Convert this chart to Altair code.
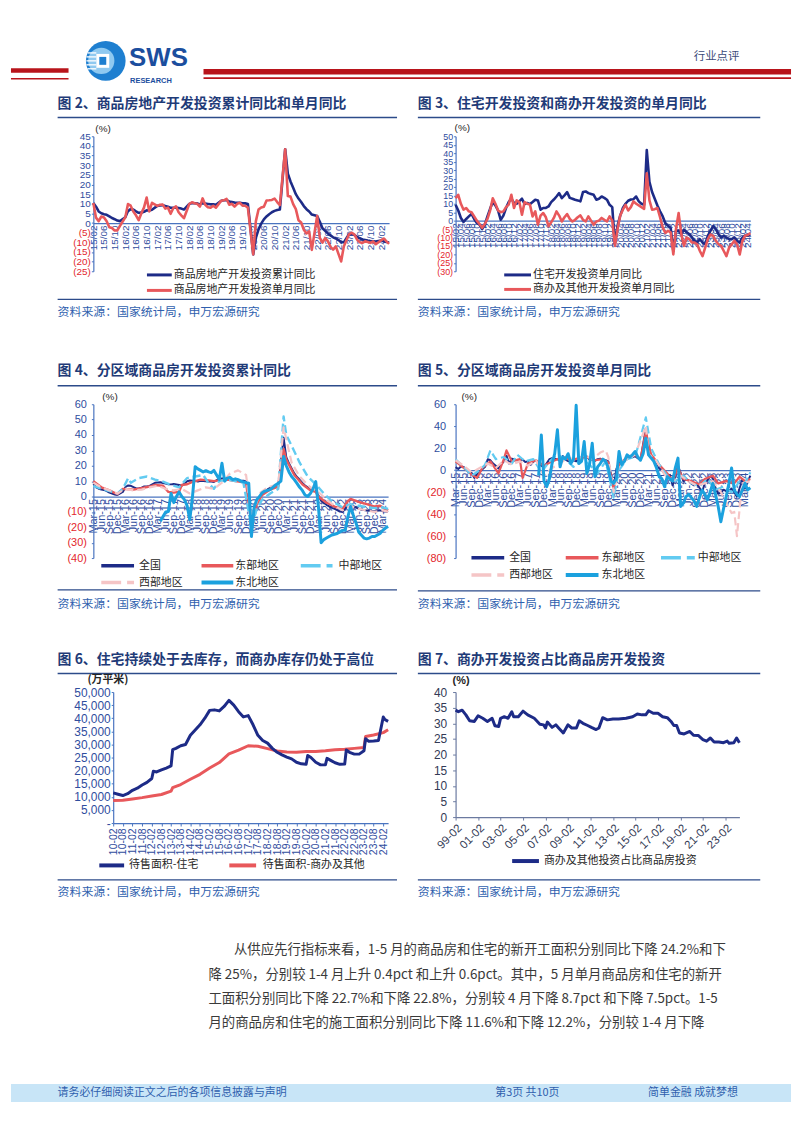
import altair as alt
import pandas as pd

CJK = "Noto Sans CJK SC"
LAT = "Liberation Sans"

NAVY = "#1D2B87"
RED = "#E8585B"
LBLUE = "#62CBF1"
PINK = "#F5C5C6"
BRIGHT = "#1BA1DE"
TITLE_C = "#1F3B78"
UL_C = "#2C4B8A"
SRC_C = "#2F5FAE"
AX_C = "#4A74C0"
POS_C = "#2F4D9E"
NEG_C = "#E3262D"
TXT_C = "#262626"
BAR_C = "#B8141B"


def months(start, end, skip_jan=False):
    out = [str(p) for p in pd.period_range(start, end, freq="M")]
    return [m for m in out if not (skip_jan and m.endswith("-01"))]


def midx(s):
    y, m = s.split("-")
    return int(y) * 12 + int(m) - 1


def ticks(start, end, step):
    a = midx(start)
    return [midx(m) for m in months(start, end) if (midx(m) - a) % step == 0]


# ---------------- data: Fig 2 ----------------
F2_MONTHS = months("2015-02", "2024-05", skip_jan=True)
F2_CUM = [10.4, 8.5, 6.0, 5.1, 4.6, 4.3, 3.5, 2.6, 2.0, 1.3, 1.0,
          3.0, 6.2, 7.2, 7.0, 6.1, 5.3, 5.4, 5.8, 6.6, 6.5, 6.9,
          8.9, 9.1, 9.3, 8.8, 8.5, 7.9, 7.9, 8.1, 7.8, 7.5, 7.0,
          9.9, 10.4, 10.3, 10.2, 9.7, 10.2, 10.1, 9.9, 9.7, 9.7, 9.5,
          11.6, 11.8, 11.9, 11.2, 10.9, 10.6, 10.5, 10.5, 10.3, 10.2, 9.9,
          -16.3, -7.7, -3.3, -0.3, 1.9, 3.4, 4.6, 5.6, 6.3, 6.8, 7.0,
          38.3, 25.6, 21.6, 18.3, 15.0, 12.7, 10.9, 8.8, 7.2, 6.0, 4.4,
          3.7, 0.7, -2.7, -4.0, -5.4, -6.4, -7.4, -8.0, -8.8, -9.8, -10.0,
          -5.7, -5.8, -6.2, -7.2, -7.9, -8.5, -8.8, -9.1, -9.3, -9.4, -9.6,
          -9.0, -9.5, -9.8, -10.1]
F2_MON = [10.4, 2.8, 1.0, 3.4, 2.9, 0.9, -2.2, -2.6, -3.9, -3.8, -1.5,
          3.0, 9.9, 9.0, 6.0, 4.0, 1.5, 5.0, 8.0, 13.2, 6.0, 10.5,
          8.9, 9.5, 9.6, 7.5, 8.0, 4.8, 7.7, 8.7, 5.6, 4.0, 2.5,
          9.9, 10.8, 10.3, 10.0, 8.5, 12.8, 9.5, 8.2, 8.0, 9.0, 8.0,
          11.6, 11.8, 12.5, 9.5, 10.0, 8.5, 10.0, 10.5, 9.0, 9.0, 8.0,
          -16.3, 1.0, 7.0, 8.1, 8.5, 11.7, 11.8, 12.0, 12.7, 10.9, 9.3,
          38.3, 14.0, 13.7, 9.8, 7.2, 1.5, 0.3, -3.5, -5.4, -4.3, -13.9,
          3.7, -7.7, -10.1, -7.8, -9.4, -12.3, -13.8, -12.1, -16.0, -19.9, -12.2,
          -5.7, -5.0, -6.0, -8.6, -10.0, -10.3, -9.5, -9.8, -10.3, -9.5, -11.0,
          -9.0, -8.0, -9.5, -10.8]

# ---------------- data: Fig 3 ----------------
F3_MONTHS = months("2015-02", "2024-05")
F3_RES = [9.4, 6, 1.6, -0.8, 1, 2.5, 4, 1, -1.4, -2.4,
          -5, -2.4, 2.5, 7, 11, 9, 6, 0.5, 3, 7.5,
          11, 13, 10.5, 10, 11.4, 13, 9.8, 10.5, 9.8, 11,
          12.4, 12, 6.5, 7.5, 7.5, 8.4, 11, 12.5, 14.3, 16.3,
          13.3, 15, 16.9, 13.5, 13, 12.4, 12, 11.4, 17, 17.3,
          16.3, 15.8, 15.3, 12.4, 13, 14.3, 13.5, 12.4, 9.4, 8,
          -14, -3, 3, 7.5, 10, 11.8, 12.5, 12.7, 14.3, 11.4,
          10, 9.4, 41.8, 23, 17, 13, 9, 5.5, 2.5, -1.5,
          -3, -4.3, -18, -6, -6, -8.2, -5.3, -7, -8, -10,
          -12, -13, -11, -13, -14, -9, -6, -3.3, -5, -8,
          -10, -9, -10, -11, -11, -10, -12, -13, -10, -9,
          -9, -8.2]
F3_COM = [13.3, 15.3, 10, 6.5, 7.5, 5.5, 5, 2.5, 0, -2,
          -4.3, -2, 1, 6, 13.3, 10, 6, 5, 5.5, 8,
          9.5, 15.3, 7.5, 12, 11, 3.5, 11, 10, 9.5, 2.5,
          5.5, -2.4, 3, 4.5, 2, -3.3, -1, 1.6, 5.5, 3,
          -0.5, 2, 3.9, 1, -0.5, 0.5, 2, 3.1, 0.5, -0.5,
          2.5, 0, -2.4, -0.5, 0, 1.6, 0.5, -0.5, 2.5, 0,
          -15, -5, 3, 6.5, 9.4, 6, 8, 11.4, 10, 9,
          8, 7, 28, 12, 6.5, 6.8, 7.5, 2, -4, -7.3,
          -6, -7, -20, -5, 4.5, -8, -15, -10, -11, -13,
          -13, -14, -18, -21, -16, -11, -8.2, -9, -12, -14,
          -15, -18, -21, -16, -14, -12, -14, -20, -12, -9,
          -8.5, -7.3]

# ---------------- data: Fig 4 ----------------
F4_NAT_MONTHS = F2_MONTHS[1:]
F4_NAT = F2_CUM[1:]
F4_EAST_M = ["2015-03", "2015-06", "2015-09", "2015-12", "2016-02", "2016-06", "2016-09", "2016-12",
             "2017-02", "2017-05", "2017-07", "2017-09", "2017-11", "2017-12",
             "2018-02", "2018-04", "2018-07", "2018-10", "2018-12",
             "2019-02", "2019-05", "2019-08", "2019-10", "2019-12",
             "2020-02", "2020-04", "2020-06", "2020-09", "2020-12",
             "2021-02", "2021-03", "2021-06", "2021-09", "2021-12",
             "2022-02", "2022-03", "2022-06", "2022-09", "2022-12",
             "2023-02", "2023-03", "2023-06", "2023-09", "2023-12",
             "2024-02", "2024-05"]
F4_EAST_V = [10, 6, 4, 1.5, 5, 4.5, 5.5, 6.5,
             7.5, 7, 3, 2.5, 3, 7.5,
             8, 9.5, 11, 10.5, 10,
             10.5, 11, 10, 9.5, 9,
             -18, -5, 1, 4.5, 6.5,
             31, 24, 14, 8, 4,
             3, 0, -4, -6.5, -8,
             -3, -1.5, -3.5, -5, -6.5,
             -6, -9]
F4_MID_M = ["2015-03", "2015-06", "2015-09", "2015-12", "2016-02", "2016-04", "2016-05", "2016-08", "2016-11",
            "2017-02", "2017-05", "2017-08", "2017-11", "2018-02", "2018-05", "2018-08", "2018-10", "2018-12",
            "2019-02", "2019-05", "2019-08", "2019-11", "2020-02", "2020-04", "2020-06", "2020-09", "2020-12",
            "2021-02", "2021-03", "2021-05", "2021-08", "2021-11", "2022-02", "2022-05", "2022-08", "2022-12",
            "2023-03", "2023-06", "2023-09", "2023-12", "2024-03", "2024-05"]
F4_MID_V = [7, 5, 3.5, 2, 5, 12, 9, 12, 13,
            11, 9.7, 7.5, 6, 12, 13, 14, 8.6, 5,
            10, 11, 10, 9, -20, -8, -2, 2, 5,
            52, 40, 33, 22, 13, 8, 2, -3, -7,
            -5, -6, -7, -7.5, -7, -8]
F4_WEST_M = ["2015-03", "2015-06", "2015-09", "2015-12", "2016-03", "2016-06", "2016-09", "2016-12",
             "2017-03", "2017-06", "2017-09", "2017-12", "2018-03", "2018-06", "2018-09", "2018-12",
             "2019-03", "2019-06", "2019-09", "2019-12", "2020-02", "2020-05", "2020-08", "2020-12",
             "2021-02", "2021-05", "2021-08", "2021-12", "2022-03", "2022-06", "2022-09", "2022-12",
             "2023-03", "2023-06", "2023-09", "2023-12", "2024-03", "2024-05"]
F4_WEST_V = [9, 6, 4, 2, 5, 4, 4.5, 6,
             7, 5, 4, 5, 2, 4, 6, 5,
             9, 15, 17, 14, -14, 2, 6, 8,
             45, 22, 13, 6, 3, -2, -6, -9,
             -6, -8, -9, -10, -9, -10]
F4_NE_MONTHS = months("2017-04", "2024-05")
F4_NE = [-16, -13, -10, -9.7, 2, -4, 0, 3, 0, -2,
         -6, -15, 0, 19.4, 18, 17, 16, 16.8, 16, 15.5,
         17, 14, 11, 21.6, 10, 12, 12.5, 11, 11.5, 11,
         10, 9.5, 9, 8.6, -26, -7, -2, 0, 2.5, 3.5,
         4, 4.5, 6, 7.5, 8.6, 10, 26, 20, 16, 13,
         11, 8.6, 6, 4, 1, 0, 2, 5, 9.7, -6.5,
         -30, -28, -27, -26, -25, -24.5, -24, -23, -22, -22,
         -13, -6.5, -12, -17, -23, -25, -27, -27.5, -27, -26,
         -26, -25, -24, -22, -20.5, -19.4]

# ---------------- data: Fig 5 ----------------
F5_NAT_MONTHS = months("2015-03", "2024-05", skip_jan=True)
F5_NAT = [2.8, 1.0, 3.4, 2.9, 0.9, -2.2, -2.6, -7.0, -3.8, -1.5,
          3.0, 9.9, 9.0, 6.0, 4.0, 1.5, 5.0, 8.0, 13.2, 6.0, 10.5,
          8.9, 9.5, 9.6, 7.5, 8.0, 4.8, 7.7, 8.7, 5.6, 4.0, 2.5,
          9.9, 10.8, 10.3, 10.0, 8.5, 12.8, 9.5, 8.2, 8.0, 9.0, 8.0,
          11.6, 11.8, 12.5, 9.5, 10.0, 8.5, 10.0, 10.5, 9.0, 9.0, 8.0,
          -16.3, 1.0, 7.0, 8.1, 8.5, 11.7, 11.8, 12.0, 12.7, 10.9, 9.3,
          38.3, 14.0, 13.7, 9.8, 7.2, 1.5, 0.3, -3.5, -5.4, -4.3, -13.9,
          3.7, -2.4, -10.1, -7.8, -9.4, -12.3, -13.8, -12.1, -16.0, -19.9, -12.2,
          -5.7, -7.2, -16.2, -21.5, -20.6, -17.8, -19.1, -18.7, -16.7, -20.0, -24.0,
          -9.0, -16.8, -10.5, -5.0]
F5_EAST_M = ["2015-03", "2015-06", "2015-09", "2015-11", "2016-01", "2016-04", "2016-07", "2016-09", "2016-10", "2016-12",
             "2017-03", "2017-04", "2017-06", "2017-09", "2017-12", "2018-03", "2018-07", "2018-10", "2019-01", "2019-04",
             "2019-07", "2019-10", "2019-12", "2020-02", "2020-04", "2020-07", "2020-10", "2020-12", "2021-02", "2021-04",
             "2021-07", "2021-10", "2021-12", "2022-02", "2022-04", "2022-07", "2022-10", "2022-12", "2023-03", "2023-05",
             "2023-08", "2023-11", "2024-01", "2024-03", "2024-05"]
F5_EAST_V = [8, 2, -4, -7, 2, 8, -3, 10, 18, 8,
             10, -7, 6, 9, 4, 8, 12, 9, 11, 12,
             9, 10, 7, -18, 5, 12, 14, 10, 35, 14,
             5, -3, -10, 2, -8, -10, -13, -8, -5, -12,
             -10, -12, -6, -10, -8]
F5_MID_M = ["2015-03", "2015-06", "2015-09", "2015-12", "2016-02", "2016-04", "2016-06", "2016-09", "2016-12", "2017-02",
            "2017-05", "2017-08", "2017-11", "2018-02", "2018-05", "2018-08", "2018-11", "2019-02", "2019-05", "2019-08",
            "2019-11", "2020-02", "2020-04", "2020-07", "2020-10", "2021-02", "2021-04", "2021-07", "2021-10", "2022-01",
            "2022-04", "2022-07", "2022-10", "2023-01", "2023-04", "2023-07", "2023-10", "2024-01", "2024-03", "2024-05"]
F5_MID_V = [10, 3, -5, 0, 5, 18, 10, 12, 6, 14,
            8, 10, -2, 8, 14, 10, 3, 10, 5, -3,
            8, -25, 0, 10, 12, 48, 20, 5, -5, -10,
            -5, -12, -15, -8, -18, -15, -20, -10, -12, -2]
F5_WEST_M = ["2015-03", "2015-06", "2015-09", "2015-12", "2016-03", "2016-06", "2016-09", "2016-12", "2017-03", "2017-06",
             "2017-09", "2017-12", "2018-03", "2018-06", "2018-09", "2018-12", "2019-03", "2019-06", "2019-09", "2019-11",
             "2019-12", "2020-02", "2020-04", "2020-07", "2020-10", "2021-02", "2021-03", "2021-06", "2021-09", "2021-12",
             "2022-03", "2022-06", "2022-09", "2022-12", "2023-03", "2023-06", "2023-08", "2023-10", "2023-11", "2023-12",
             "2024-01", "2024-02", "2024-05"]
F5_WEST_V = [9, 4, -2, 2, 6, 2, 9, 5, 8, 4,
             9, -5, 2, 6, 12, 8, 14, 10, 16, 18,
             12, -20, 6, 10, 14, 40, 15, 8, -4, -10,
             -5, -10, -14, -12, -10, -20, -30, -39, -38, -60,
             -35, -12, -10]
F5_NE_MONTHS = months("2017-10", "2024-05")
F5_NE = [-5, 32, -10, -15, -8, 6, 15, 36.7, 3, 12,
         10, 15, 6, 10, 59, 6, 8, 26, -3, 5,
         24.5, -6, 3, 6, 10, 8, 2, -10, -12, -8,
         17, 5, 8, 14, 12, 14, 17, 12, 9, 15,
         29, 14, 11, 8, 2, -6, -8, -15, -6, -8,
         -10, 2, 11, -33, -30, -24, -22, -25, -28, -33,
         -25, -18, -22, -27, -20, -12, -22, -33, -47, -35,
         -24, -12, 2, -18, -22, -24, -18, -12, -18, -16]

# ---------------- data: Fig 6 ----------------
F6_RES_M = ["2010-02", "2010-05", "2010-08", "2010-11", "2011-02", "2011-05", "2011-08", "2011-11",
            "2012-02", "2012-03", "2012-05", "2012-08", "2012-11",
            "2013-02", "2013-03", "2013-05", "2013-08", "2013-11",
            "2014-02", "2014-05", "2014-08", "2014-11",
            "2015-02", "2015-05", "2015-08", "2015-11",
            "2016-02", "2016-05", "2016-08", "2016-11",
            "2017-02", "2017-05", "2017-08", "2017-11",
            "2018-02", "2018-05", "2018-08", "2018-11",
            "2019-02", "2019-05", "2019-08", "2019-11",
            "2020-02", "2020-03", "2020-05", "2020-08", "2020-11",
            "2021-02", "2021-03", "2021-05", "2021-08", "2021-11",
            "2022-02", "2022-03", "2022-05", "2022-08", "2022-11",
            "2023-02", "2023-03", "2023-05", "2023-08", "2023-11",
            "2024-02", "2024-03", "2024-05"]
F6_RES = [11500, 11000, 10500, 11200, 12500, 13300, 14500, 15500,
          17000, 19800, 19500, 20300, 21000,
          21800, 28000, 28500, 29500, 30000,
          33500, 35500, 37500, 40000,
          43000, 43200, 42800, 44500,
          46800, 45000, 42500, 40500,
          41000, 37500, 33500, 31500,
          30500, 28500, 27000, 26000,
          25200, 24500, 23200, 22600,
          22400, 25800, 25000, 23200, 22200,
          22200, 24700, 24000, 23000, 22400,
          22500, 27900, 27000, 26300, 26300,
          27600, 32200, 31200, 31300, 31500,
          40500, 39500, 38800]
F6_COM_M = ["2010-02", "2010-08", "2011-02", "2011-08", "2012-02", "2012-08", "2013-02", "2013-03", "2013-08",
            "2014-02", "2014-08", "2015-02", "2015-08", "2016-02", "2016-08", "2017-02", "2017-08", "2018-02",
            "2018-08", "2019-02", "2019-08", "2020-02", "2020-08", "2021-02", "2021-08", "2022-02", "2022-08",
            "2023-02", "2023-03", "2023-08", "2024-02", "2024-05"]
F6_COM = [8600, 8700, 9200, 9700, 10300, 10900, 12200, 13500, 14700,
          16700, 18600, 21000, 23100, 26400, 27800, 29500, 29300, 28400,
          27500, 27100, 27000, 27300, 27300, 27600, 28000, 28200, 28500,
          28800, 33000, 33600, 34500, 35600]

# ---------------- data: Fig 7 ----------------
F7_M = ["1999-02", "1999-05", "1999-09", "2000-01", "2000-05", "2000-10", "2001-02", "2001-07", "2001-12", "2002-05",
        "2002-08", "2002-12", "2003-02", "2003-06", "2003-10", "2004-02", "2004-04", "2004-09", "2005-02", "2005-07",
        "2006-02", "2006-08", "2006-12", "2007-02", "2007-04", "2007-09", "2008-01", "2008-04", "2008-09", "2009-02",
        "2009-06", "2009-11", "2010-02", "2010-06", "2010-11", "2011-03", "2011-08", "2011-11", "2012-03", "2012-08",
        "2013-02", "2013-08", "2014-04", "2014-11", "2015-04", "2015-09", "2016-01", "2016-04", "2016-09", "2017-02",
        "2017-07", "2017-12", "2018-04", "2018-07", "2018-10", "2019-01", "2019-06", "2019-12", "2020-04", "2020-09",
        "2021-02", "2021-06", "2021-10", "2022-02", "2022-07", "2022-12", "2023-04", "2023-06", "2023-11", "2024-02",
        "2024-05"]
F7_V = [34.2, 33.7, 34.2, 32.7, 30.8, 30.6, 32.4, 31.6, 30.6, 31.6,
        29.2, 29.0, 31.6, 32.1, 31.6, 33.7, 32.1, 32.1, 33.9, 32.7,
        31.6, 29.7, 29.5, 28.5, 30.4, 28.7, 29.5, 28.5, 26.9, 29.5,
        28.5, 28.5, 30.8, 30.0, 29.3, 28.7, 28.0, 28.5, 31.8, 31.1,
        31.4, 31.4, 31.6, 32.1, 33.0, 32.7, 32.7, 34.0, 33.2, 33.2,
        32.1, 31.8, 30.6, 29.3, 29.3, 26.9, 26.6, 27.4, 26.2, 26.1,
        24.8, 24.3, 25.3, 24.0, 24.0, 23.8, 24.3, 23.6, 23.8, 25.3,
        23.8]

PARA = ["从供应先行指标来看，1-5 月的商品房和住宅的新开工面积分别同比下降 24.2%和下",
        "降 25%，分别较 1-4 月上升 0.4pct 和上升 0.6pct。其中，5 月单月商品房和住宅的新开",
        "工面积分别同比下降 22.7%和下降 22.8%，分别较 4 月下降 8.7pct 和下降 7.5pct。1-5",
        "月的商品房和住宅的施工面积分别同比下降 11.6%和下降 12.2%，分别较 1-4 月下降"]

# ---------------- helpers ----------------
ONE = pd.DataFrame({"k": [0]})

SLASH = "format(floor(datum.value/12)%100,'02')+'/'+format(datum.value%12+1,'02')"
DASH = "format(floor(datum.value/12)%100,'02')+'-'+format(datum.value%12+1,'02')"
MON = ("['Jan','Feb','Mar','Apr','May','Jun','Jul','Aug','Sep','Oct','Nov','Dec'][datum.value%12]"
       "+'-'+format(floor(datum.value/12)%100,'02')")
PAREN = "datum.value < 0 ? '(' + format(-datum.value,'d') + ')' : format(datum.value,'d')"
COND_C = {"condition": {"test": "datum.value < 0", "value": NEG_C}, "value": POS_C}


def T(s, x, y, size=11, color=TXT_C, weight="normal", font=CJK, align="left"):
    return alt.Chart(ONE).mark_text(text=s, align=align, baseline="middle", fontSize=size, font=font,
                                    fontWeight=weight, color=color).encode(x=alt.value(x), y=alt.value(y))


def R(x1, x2, y, color, w, dash=None):
    kw = {"color": color, "strokeWidth": w}
    if dash:
        kw["strokeDash"] = dash
    return alt.Chart(ONE).mark_rule(**kw).encode(x=alt.value(x1), x2=alt.value(x2), y=alt.value(y))


def BOX(x1, x2, y1, y2, color):
    return alt.Chart(ONE).mark_rect(color=color).encode(x=alt.value(x1), x2=alt.value(x2),
                                                        y=alt.value(y1), y2=alt.value(y2))


def frame(title, tx, ty, uy, ux2, sy, sty):
    return [T(title, tx, ty, 14, TITLE_C, "bold"),
            R(tx, ux2, uy, UL_C, 1.6),
            R(tx, ux2, sy, UL_C, 1.3),
            T("资料来源：国家统计局，申万宏源研究", tx, sty, 12, SRC_C)]


def spacer(w, h):
    return (alt.Chart(ONE).mark_point(opacity=0, size=1)
            .encode(x=alt.value(w / 2), y=alt.value(h / 2)).properties(width=w, height=h))


def xaxis_zero(vals, expr, size, off):
    return alt.Axis(values=vals, labelExpr=expr, labelAngle=-90, labelFontSize=size, labelFont=LAT,
                    labelColor=POS_C, labelOverlap=False, labelFlush=False, labelPadding=2, ticks=False,
                    domainColor=AX_C, domainWidth=1.2, offset=-off, title=None, grid=False)


def yaxis_pct(vals, size, pad):
    return alt.Axis(values=vals, labelExpr=PAREN, labelColor=COND_C, labelFontSize=size, labelFont=LAT,
                    tickSize=2, tickColor=AX_C, domainColor=AX_C, domainWidth=1.2, labelPadding=pad,
                    labelOverlap=False, labelFlush=False, title=None, grid=False)


def fig(width, height, xdom, ydom, xax, yax, series, decos, xrange=None):
    xs = alt.Scale(domain=xdom, nice=False, zero=False)
    if xrange:
        xs = alt.Scale(domain=xdom, nice=False, zero=False, range=xrange)
    xenc = alt.X("t:Q", scale=xs, axis=xax)
    yenc = alt.Y("v:Q", scale=alt.Scale(domain=ydom, nice=False, zero=False), axis=yax)
    layers = []
    for mlist, vals, mk in series:
        df = pd.DataFrame({"t": [midx(m) for m in mlist], "v": vals})
        layers.append(alt.Chart(df).mark_line(strokeJoin="round", **mk).encode(x=xenc, y=yenc))
    return alt.layer(*layers, *decos).properties(width=width, height=height)


# ---------------- Fig 2 ----------------
W2, H2 = 298, 136
fig2 = fig(W2, H2, [midx("2015-02"), midx("2024-05")], [-25, 45],
           xaxis_zero(ticks("2015-02", "2024-02", 4), SLASH, 10, H2 * 25 / 70),
           yaxis_pct(list(range(-25, 46, 5)), 10, 1),
           [(F2_MONTHS, F2_CUM, {"color": NAVY, "strokeWidth": 2.6}),
            (F2_MONTHS, F2_MON, {"color": RED, "strokeWidth": 2.6})],
           frame("图 2、商品房地产开发投资累计同比和单月同比", -36, -32, -19, 306, 164.3, 177) + [
               T("(%)", 2, -7, 10, TXT_C, font=LAT),
               R(54, 79, 139.7, NAVY, 3), T("商品房地产开发投资累计同比", 81, 139.7),
               R(54, 79, 155.3, RED, 3), T("商品房地产开发投资单月同比", 81, 155.3)])

# ---------------- Fig 3 ----------------
W3, H3 = 297, 136
fig3 = fig(W3, H3, [midx("2015-02"), midx("2024-05")], [-30, 50],
           xaxis_zero(ticks("2015-02", "2024-04", 2), SLASH, 10, H3 * 30 / 80),
           yaxis_pct(list(range(-30, 51, 5)), 9, 1),
           [(F3_MONTHS, F3_RES, {"color": NAVY, "strokeWidth": 2.6}),
            (F3_MONTHS, F3_COM, {"color": RED, "strokeWidth": 2.6})],
           frame("图 3、住宅开发投资和商办开发投资的单月同比", -38, -32, -19, 307, 164.3, 177) + [
               T("(%)", -1, -8, 10, TXT_C, font=LAT),
               R(49, 76, 139.7, NAVY, 3), T("住宅开发投资单月同比", 78, 139.7),
               R(49, 76, 154.3, RED, 3), T("商办及其他开发投资单月同比", 78, 154.3)])

# ---------------- Fig 4 ----------------
W4, H4 = 297, 155
fig4 = fig(W4, H4, [midx("2015-03"), midx("2024-05")], [-40, 60],
           xaxis_zero(ticks("2015-03", "2024-03", 3), MON, 11, H4 * 40 / 100),
           yaxis_pct(list(range(-40, 61, 10)), 11, 5),
           [(F4_NAT_MONTHS, F4_NAT, {"color": NAVY, "strokeWidth": 2}),
            (F4_EAST_M, F4_EAST_V, {"color": RED, "strokeWidth": 2.4}),
            (F4_MID_M, F4_MID_V, {"color": LBLUE, "strokeWidth": 2.4, "strokeDash": [8, 4]}),
            (F4_WEST_M, F4_WEST_V, {"color": PINK, "strokeWidth": 2.2, "strokeDash": [8, 4]}),
            (F4_NE_MONTHS, F4_NE, {"color": BRIGHT, "strokeWidth": 3})],
           frame("图 4、分区域商品房开发投资累计同比", -36, -33, -18.7, 306, 187, 201.3) + [
               T("(%)", 9, -7, 10, TXT_C, font=LAT),
               R(8, 41, 162.7, NAVY, 3.5), T("全国", 46, 162.7),
               R(109, 141, 162.7, RED, 3.5), T("东部地区", 143, 162.7),
               R(209, 241, 162.7, LBLUE, 3.5, [20, 6]), T("中部地区", 247, 162.7),
               R(8, 41, 179.7, PINK, 3.5, [20, 6]), T("西部地区", 46, 179.7),
               R(109, 141, 179.7, BRIGHT, 4), T("东北地区", 143, 179.7)])

# ---------------- Fig 5 ----------------
W5, H5 = 297, 155
fig5 = fig(W5, H5, [midx("2015-03"), midx("2024-05")], [-80, 60],
           xaxis_zero(ticks("2015-03", "2024-03", 3), MON, 11, H5 * 80 / 140),
           yaxis_pct(list(range(-80, 61, 20)), 11, 8),
           [(F5_NAT_MONTHS, F5_NAT, {"color": NAVY, "strokeWidth": 2}),
            (F5_EAST_M, F5_EAST_V, {"color": RED, "strokeWidth": 2.2}),
            (F5_MID_M, F5_MID_V, {"color": LBLUE, "strokeWidth": 2.2, "strokeDash": [8, 4]}),
            (F5_WEST_M, F5_WEST_V, {"color": PINK, "strokeWidth": 2.2, "strokeDash": [8, 4]}),
            (F5_NE_MONTHS, F5_NE, {"color": BRIGHT, "strokeWidth": 3})],
           frame("图 5、分区域商品房开发投资单月同比", -38, -33, -18.7, 307, 188, 201.5) + [
               T("(%)", 6, -7, 10, TXT_C, font=LAT),
               R(16, 49, 154.7, NAVY, 3.5), T("全国", 54, 154.7),
               R(111, 144, 154.7, RED, 3.5), T("东部地区", 147, 154.7),
               R(207, 241, 154.7, LBLUE, 3.5, [20, 6]), T("中部地区", 244, 154.7),
               R(16, 49, 172, PINK, 3.5, [20, 6]), T("西部地区", 54, 172),
               R(111, 144, 172, BRIGHT, 4), T("东北地区", 147, 172)])

# ---------------- Fig 6 (cell starts at page x 91, plot drawn from +20) ----------------
W6, H6 = 297, 132
ax6x = alt.Axis(values=ticks("2010-02", "2024-02", 6), labelExpr=DASH, labelAngle=-90, labelFontSize=10.5,
                labelFont=LAT, labelColor=POS_C, labelOverlap=False, labelFlush=False, tickSize=3,
                tickColor=AX_C, domainColor=AX_C, domainWidth=1.2, title=None, grid=False)
ax6y = alt.Axis(values=list(range(0, 50001, 5000)), labelExpr="datum.value == 0 ? '-' : format(datum.value, ',')",
                labelFontSize=12, labelFont=LAT, labelColor=POS_C, tickSize=2, tickColor=AX_C,
                domainColor=AX_C, domainWidth=1.2, labelPadding=1, labelOverlap=False, labelFlush=False,
                offset=-20, title=None, grid=False)
fig6 = fig(W6, H6, [midx("2010-02"), midx("2024-05")], [0, 50000], ax6x, ax6y,
           [(F6_COM_M, F6_COM, {"color": RED, "strokeWidth": 3}),
            (F6_RES_M, F6_RES, {"color": NAVY, "strokeWidth": 3})],
           frame("图 6、住宅持续处于去库存，而商办库存仍处于高位", -36, -32, -18.7, 306, 189.3, 202) + [
               T("(万平米)", -6, -12, 11, TXT_C, "bold"),
               R(6, 31, 174.7, NAVY, 4), T("待售面积-住宅", 36, 174.7),
               R(137, 164, 174.7, RED, 4), T("待售面积-商办及其他", 170.7, 174.7)],
           xrange=[20, 297])

# ---------------- Fig 7 ----------------
W7, H7 = 286, 126
ax7x = alt.Axis(values=ticks("1999-02", "2023-02", 24), labelExpr=DASH, labelAngle=-45, labelFontSize=11.5,
                labelFont=LAT, labelColor="#333A55", labelOverlap=False, labelFlush=False, tickSize=3,
                tickColor="#6B7AA0", domainColor="#6B7AA0", domainWidth=1.2, title=None, grid=False)
ax7y = alt.Axis(values=list(range(0, 41, 5)), labelFontSize=12, labelFont=LAT, labelColor="#333A55",
                tickSize=3, tickColor="#6B7AA0", domainColor="#6B7AA0", domainWidth=1.2, labelPadding=6,
                labelOverlap=False, labelFlush=False, title=None, grid=False)
fig7 = fig(W7, H7, [midx("1999-02"), midx("2024-05")], [0, 40], ax7x, ax7y,
           [(F7_M, F7_V, {"color": NAVY, "strokeWidth": 3})],
           frame("图 7、商办开发投资占比商品房开发投资", -38, -32, -18.7, 307, 189.3, 202) + [
               T("(%)", -3, -11, 11, TXT_C, "bold", LAT),
               R(57, 84, 170.3, NAVY, 4), T("商办及其他投资占比商品房投资", 89, 170.3)])

# ---------------- header (cell of width 83, drawn across the page) ----------------
header = alt.layer(
    R(0, 58, 58.7, BAR_C, 4.6), R(0, 58, 67, BAR_C, 1.6),
    R(194, 786, 60, BAR_C, 5.4), R(194, 786, 66.3, BAR_C, 1.8),
    alt.Chart(ONE).mark_point(shape="circle", filled=True, size=1600, color="#1E7FD0", opacity=1)
    .encode(x=alt.value(95.5), y=alt.value(49)),
    alt.Chart(ONE).mark_point(shape="circle", filled=True, size=700, color="#8FC9F0", opacity=1)
    .encode(x=alt.value(91), y=alt.value(49)),
    BOX(86, 99, 42, 56, "white"),
    BOX(89, 96, 45, 53, "#1E7FD0"),
    R(77, 86, 41, "white", 1.3), R(76, 86, 45, "white", 1.3), R(76, 86, 49, "white", 1.3),
    R(76, 86, 53, "white", 1.3), R(77, 86, 57, "white", 1.3),
    T("SWS", 119, 46, 26, "#1B4E9E", "bold", LAT),
    T("RESEARCH", 120, 69, 7.5, "#1B4E9E", "bold", LAT),
    T("行业点评", 688, 45, 11.5, "#3B4A78"),
).properties(width=83, height=125)

# ---------------- bottom (cell of width 83, drawn across the page) ----------------
bottom = alt.layer(
    T(PARA[0], 224.7, 128, 13.5, "#3A3A3A"),
    T(PARA[1], 199, 153, 13.5, "#3A3A3A"),
    T(PARA[2], 199, 177.5, 13.5, "#3A3A3A"),
    T(PARA[3], 199, 201.5, 13.5, "#3A3A3A"),
    BOX(0, 786, 263, 281, "#C8E5F7"),
    T("请务必仔细阅读正文之后的各项信息披露与声明", 47, 272, 11, "#2F5FAE"),
    T("第3页 共10页", 488, 272, 11, "#2F5FAE"),
    T("简单金融 成就梦想", 642, 272, 11, "#2F5FAE"),
).properties(width=83, height=300)

# ---------------- page grid: columns 83 | 298 | 67 | 297 ----------------
cells = [
    header, spacer(298, 125), spacer(67, 125), spacer(297, 125),
    spacer(83, 136), fig2, spacer(67, 136), fig3,
    spacer(83, 134), spacer(298, 134), spacer(67, 134), spacer(297, 134),
    spacer(83, 155), fig4, spacer(67, 155), fig5,
    spacer(83, 135), spacer(298, 135), spacer(67, 135), spacer(297, 135),
    spacer(83, 132), fig6, spacer(67, 132), fig7,
    bottom, spacer(298, 300), spacer(67, 300), spacer(297, 300),
]

chart = alt.concat(*cells, columns=4, spacing=0, bounds="flush", align="each").properties(
    padding={"left": 0, "top": 0, "right": 0, "bottom": 0})
chart = (chart.configure(font=CJK, style={"cell": {"stroke": "transparent", "strokeWidth": 0}})
         .configure_view(stroke=None, strokeWidth=0)
         .configure_axis(grid=False))

chart.save("out.html", embed_options={"renderer": "svg", "actions": False})
